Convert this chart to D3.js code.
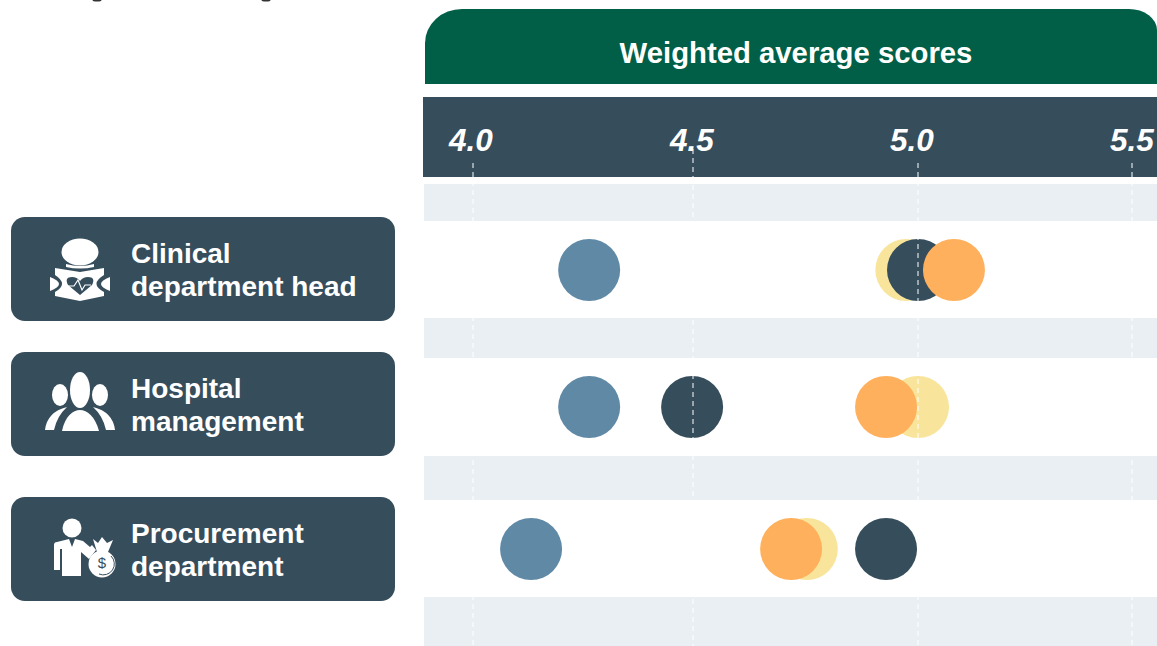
<!DOCTYPE html>
<meta charset="utf-8">
<style>
body { margin: 0; background: #fff; }
svg { display: block; font-family: "Liberation Sans", Arial, sans-serif; }
</style>
<body>
<script src="https://d3js.org/d3.v7.min.js"></script>
<script>

var width = 1157,
    height = 646;

var title = "Weighted average scores";
var ticks = [4.0, 4.5, 5.0, 5.5];
var categories = [["Clinical", "department head"], ["Hospital", "management"], ["Procurement", "department"]];

// no legend in the picture, series are named by colour. listed in drawing order
var seriesNames = ["yellow", "slate", "blue", "orange"];
var yellowValues = [4.974, 5.0, 4.753];
var slateValues = [5.0, 4.498, 4.929];
var blueValues = [4.264, 4.264, 4.132];
var orangeValues = [5.084, 4.929, 4.718];

var seriesValues = [yellowValues, slateValues, blueValues, orangeValues];
var seriesColors = ["#f8e59b", "#364d5c", "#6089a6", "#ffb05c"];

var dark = "#364d5c";

// the tick spacing in the original is slightly uneven, so each tick gets its own stop
var x = d3.scaleLinear()
    .domain(ticks)
    .range([473, 693, 918, 1132]);

var y = d3.scaleOrdinal()
    .domain([0, 1, 2])
    .range([270, 407, 549]);

// labels don't sit quite centred on their guides in the original
var tickLabelShift = [-2, -1, -6, 0];

var svg = d3.select("body").append("svg")
    .attr("width", width)
    .attr("height", height);

// bottoms of two letters from a line cut off at the top of the picture
svg.selectAll("ellipse.crumb")
    .data([97, 266])
    .enter().append("ellipse")
    .attr("class", "crumb")
    .attr("cx", function(d) { return d; })
    .attr("cy", 0)
    .attr("rx", 4.5)
    .attr("ry", 1.5)
    .attr("fill", "#333");

// pale stripes behind the rows
var stripes = [[184, 221], [318, 358], [456, 500], [597, 646]];
svg.selectAll("rect.stripe")
    .data(stripes)
    .enter().append("rect")
    .attr("class", "stripe")
    .attr("x", 424)
    .attr("y", function(d) { return d[0]; })
    .attr("width", width - 424)
    .attr("height", function(d) { return d[1] - d[0]; })
    .attr("fill", "#eaeff3");

// green title block, rounded on top only
svg.append("path")
    .attr("d", "M425,84 V43 A37,34 0 0 1 462,9 H1129 A28,21 0 0 1 1157,30 V84 Z")
    .attr("fill", "#005f46");

svg.append("text")
    .attr("x", 796)
    .attr("y", 63)
    .attr("text-anchor", "middle")
    .attr("fill", "#fff")
    .attr("font-weight", "bold")
    .style("font-size", "29.3px")
    .text(title);

svg.append("rect")
    .attr("x", 423)
    .attr("y", 97)
    .attr("width", width - 423)
    .attr("height", 80)
    .attr("fill", dark);

svg.selectAll("text.tick")
    .data(ticks)
    .enter().append("text")
    .attr("class", "tick")
    .attr("x", function(d, i) { return x(d) + tickLabelShift[i]; })
    .attr("y", 151)
    .attr("text-anchor", "middle")
    .attr("fill", "#fff")
    .attr("font-weight", "bold")
    .attr("font-style", "italic")
    .style("font-size", "31.5px")
    .text(function(d) { return d.toFixed(1); });

// dots
seriesNames.forEach(function(name, s) {
  svg.selectAll("circle." + name)
      .data(seriesValues[s])
      .enter().append("circle")
      .attr("class", name)
      .attr("cx", function(d) { return x(d); })
      .attr("cy", function(d, i) { return y(i); })
      .attr("r", 31)
      .attr("fill", seriesColors[s]);
});

// dashed guides run over everything. the 4.5 one starts higher
svg.selectAll("line.guide")
    .data(ticks)
    .enter().append("line")
    .attr("class", "guide")
    .attr("x1", function(d) { return x(d); })
    .attr("x2", function(d) { return x(d); })
    .attr("y1", function(d) { return d === 4.5 ? 149 : 163; })
    .attr("y2", height)
    .attr("stroke", "#fff")
    .attr("stroke-width", 1)
    .attr("stroke-dasharray", "5,4");

// category buttons
var buttonTop = [217, 352, 497];
var button = svg.selectAll("g.button")
    .data(categories)
    .enter().append("g")
    .attr("class", "button")
    .attr("transform", function(d, i) { return "translate(11," + buttonTop[i] + ")"; });

button.append("rect")
    .attr("width", 384)
    .attr("height", 104)
    .attr("rx", 14)
    .attr("fill", dark);

button.each(function(d) {
  var g = d3.select(this);
  d.forEach(function(line, j) {
    g.append("text")
        .attr("x", 120)
        .attr("y", 46 + j * 33)
        .attr("fill", "#fff")
        .attr("font-weight", "bold")
        .style("font-size", "28px")
        .text(line);
  });
});

// icons, drawn by hand in button coordinates
var icons = button.append("g").attr("fill", "#fff");

// clinical head: head, open book with heart
var i0 = d3.select(icons.nodes()[0]);
i0.append("ellipse").attr("cx", 69).attr("cy", 35).attr("rx", 18.5).attr("ry", 13.5);
i0.append("path").attr("d", "M55,47 Q69,51 83,47 L83,50 Q69,53 55,50 Z");
i0.append("path")
    .attr("d", "M44,51 L69,55 L93,51 V58 Q78,67 93,75 V79 L69,84 L44,79 V75 Q58,67 44,58 Z");
i0.append("path").attr("d", "M39,60 Q57,67 39,74 Z");
i0.append("path").attr("d", "M99,60 Q81,67 99,74 Z");
i0.append("path")
    .attr("d", "M69,78 L57,68 Q53,60 61,60 Q66,60 69,64 Q72,60 77,60 Q85,60 81,68 Z")
    .attr("fill", dark);
i0.append("path")
    .attr("d", "M57,69 H63 L67,63 L71,73 L74,68 H80")
    .attr("fill", "none")
    .attr("stroke", "#fff")
    .attr("stroke-width", 1.2);

// hospital management: three people
var i1 = d3.select(icons.nodes()[1]);
i1.append("ellipse").attr("cx", 49).attr("cy", 43).attr("rx", 8).attr("ry", 11);
i1.append("ellipse").attr("cx", 69).attr("cy", 38).attr("rx", 10).attr("ry", 18);
i1.append("ellipse").attr("cx", 89).attr("cy", 43).attr("rx", 8).attr("ry", 11);
i1.append("path").attr("d", "M34,78 Q36,60 56,55 Q46,64 43,78 Z");
i1.append("path").attr("d", "M104,78 Q102,60 82,55 Q92,64 95,78 Z");
i1.append("path").attr("d", "M51,79 C54,64 62,58 69,58 C76,58 84,64 88,79 Z");

// procurement: person with money bag
var i2 = d3.select(icons.nodes()[2]);
i2.append("circle").attr("cx", 61).attr("cy", 31).attr("r", 9.5);
i2.append("path").attr("d", "M43,48 Q43,45 46,45 L58,42 L61,50 L64,42 L72,44 L79,50 L81,48 L85,53 L78,62 L70,55 V79 H51 V52 H49 V73 H43 Z");
i2.append("circle").attr("cx", 91).attr("cy", 67).attr("r", 13.5);
i2.append("path").attr("d", "M82,42 L87,46 L91,40 L96,46 L102,43 L97,55 H86 Z");
i2.append("path")
    .attr("d", "M100,59 A11,11 0 0 1 88,77")
    .attr("fill", "none")
    .attr("stroke", dark)
    .attr("stroke-width", 1);
i2.append("text")
    .attr("x", 91)
    .attr("y", 71)
    .attr("text-anchor", "middle")
    .attr("fill", dark)
    .style("font-size", "15px")
    .text("$");

</script>
